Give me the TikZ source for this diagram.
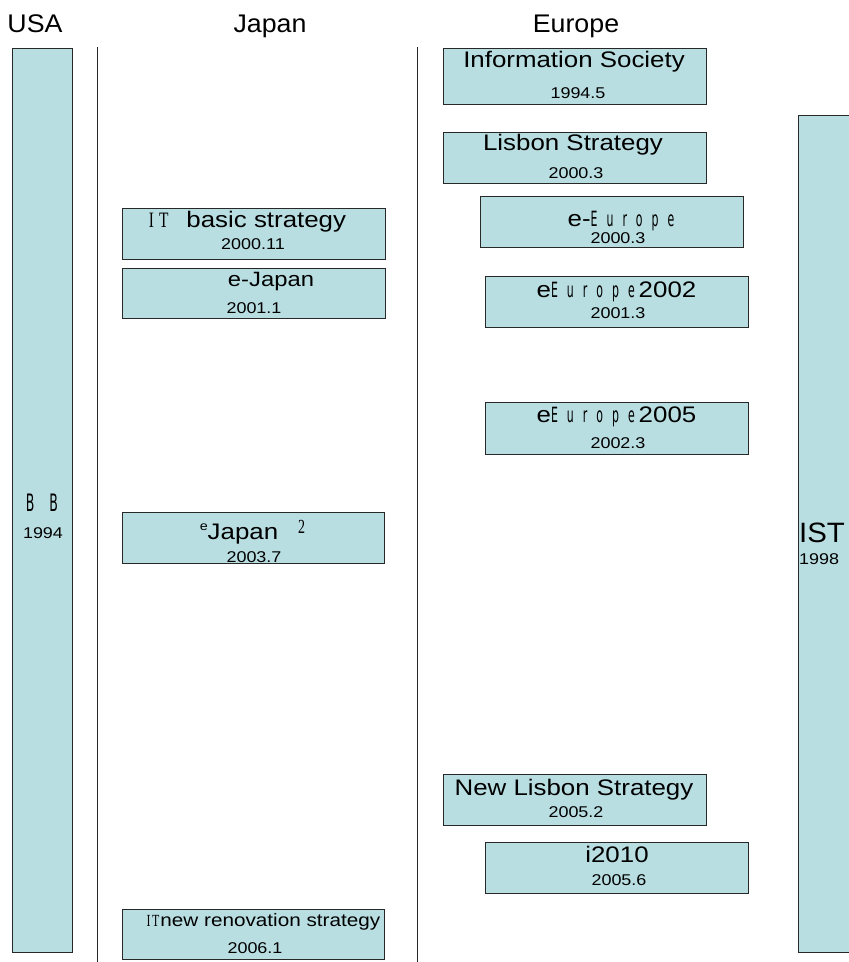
\documentclass[tikz,border=0pt]{standalone}
\usepackage{fontspec}
\setmainfont{Liberation Sans}
% slightly widened sans for box captions and headings; narrow faces for the odd glyph runs
\newfontfamily\bxf{Liberation Sans}[FakeStretch=1.15]
\newfontfamily\hdf{Liberation Sans}[FakeStretch=1.05]
\newfontfamily\nrw{DejaVu Sans}[FakeStretch=0.52]
\newfontfamily\nrws{Liberation Serif}[FakeStretch=0.7]
\newcommand\ttl{\bxf\fontsize{22.5}{24}\selectfont}
\newcommand\dte{\bxf\fontsize{15.6}{17}\selectfont}
\newcommand\lsp{\kern 9pt}
\definecolor{panelfill}{RGB}{185,222,226}
\definecolor{edge}{RGB}{40,40,40}
\tikzset{
  panel/.style={draw=edge, line width=0.9pt, fill=panelfill, inner sep=0pt, anchor=north west},
  lbl/.style={inner sep=0pt, anchor=base},
  lblw/.style={inner sep=0pt, anchor=base west},
  head/.style={inner sep=0pt, anchor=base, font=\hdf\fontsize{25.5}{28}\selectfont},
  divider/.style={draw=edge, line width=0.9pt}
}
\begin{document}
\begin{tikzpicture}[x=1pt,y=-1pt]
\useasboundingbox (0,0) rectangle (849,962);
\clip (0,0) rectangle (849,962);

% column headings
\node[head] (hUSA) at (35,32) {USA};
\node[head] (hJapan) at (270,32) {Japan};
\node[head] (hEurope) at (576,32) {Europe};

% column dividers
\coordinate (d1top) at (97,47);
\coordinate (d1bot) at (97,962);
\coordinate (d2top) at (417,47);
\coordinate (d2bot) at (417,962);
\draw[divider] (d1top) -- (d1bot);
\draw[divider] (d2top) -- (d2bot);

% USA
\node[panel, minimum width=60pt, minimum height=904pt] (usa) at (12,48) {};
\node[lbl] (usaT) at (42,511) {\nrw\fontsize{24}{26}\selectfont B\kern15pt B};
\node[lbl] (usaD) at (43,538) {\dte 1994};

% Japan
\node[panel, minimum width=263pt, minimum height=51pt] (itbasic) at (122,208) {};
\node[lbl] (itbasicT) at (247.5,227) {{\nrws\fontsize{22}{24}\selectfont I\kern5pt T}\kern18pt{\ttl basic strategy}};
\node[lbl] (itbasicD) at (253,249) {\dte 2000.11};

\node[panel, minimum width=263pt, minimum height=50pt] (ejapan) at (122,268) {};
\node[lbl] (ejapanT) at (271,286) {\bxf\fontsize{20.7}{22}\selectfont e-Japan};
\node[lbl] (ejapanD) at (254,313) {\dte 2001.1};

\node[panel, minimum width=262pt, minimum height=51pt] (ejapan2) at (122,512) {};
\node[lbl] (ejapan2T) at (252.5,539) {\raisebox{9pt}{\bxf\fontsize{12.5}{14}\selectfont e}{\ttl Japan}\kern20pt\raisebox{6pt}{\nrws\fontsize{20}{22}\selectfont 2}};
\node[lbl] (ejapan2D) at (254,562) {\dte 2003.7};

\node[panel, minimum width=262pt, minimum height=50pt] (itnew) at (122,909) {};
\node[lbl] (itnewT) at (263.5,926) {{\nrws\fontsize{17}{19}\selectfont I\kern1.5pt T}\kern1pt{\bxf\fontsize{18}{20}\selectfont new renovation strategy}};
\node[lbl] (itnewD) at (255,953) {\dte 2006.1};

% Europe
\node[panel, minimum width=263pt, minimum height=56pt] (info) at (443,48) {};
\node[lbl] (infoT) at (574,67) {\ttl Information Society};
\node[lbl] (infoD) at (578,98) {\dte 1994.5};

\node[panel, minimum width=263pt, minimum height=51pt] (lisbon) at (443,132) {};
\node[lbl] (lisbonT) at (573,150) {\ttl Lisbon Strategy};
\node[lbl] (lisbonD) at (576,178) {\dte 2000.3};

\node[panel, minimum width=263pt, minimum height=51pt] (eeur) at (480,196) {};
\node[lbl] (eeurT) at (621,226) {{\ttl e-}{\nrw\fontsize{21}{23}\selectfont E\lsp u\lsp r\lsp o\lsp p\lsp e}};
\node[lbl] (eeurD) at (618,243) {\dte 2000.3};

\node[panel, minimum width=263pt, minimum height=51pt] (eeurA) at (485,276) {};
\node[lbl] (eeurAT) at (616.5,297) {{\ttl e}{\nrw\fontsize{21}{23}\selectfont E\lsp u\lsp r\lsp o\lsp p\lsp e}\kern4pt{\ttl 2002}};
\node[lbl] (eeurAD) at (618,318) {\dte 2001.3};

\node[panel, minimum width=263pt, minimum height=52pt] (eeurB) at (485,402) {};
\node[lbl] (eeurBT) at (616.5,422) {{\ttl e}{\nrw\fontsize{21}{23}\selectfont E\lsp u\lsp r\lsp o\lsp p\lsp e}\kern4pt{\ttl 2005}};
\node[lbl] (eeurBD) at (618,448) {\dte 2002.3};

\node[panel, minimum width=263pt, minimum height=51pt] (newlis) at (443,774) {};
\node[lbl] (newlisT) at (574,795) {\ttl New Lisbon Strategy};
\node[lbl] (newlisD) at (576,817) {\dte 2005.2};

\node[panel, minimum width=263pt, minimum height=51pt] (itwenty) at (485,842) {};
\node[lbl] (itwentyT) at (617,862) {\ttl i2010};
\node[lbl] (itwentyD) at (619,885) {\dte 2005.6};

% IST programme, running off the right edge
\node[panel, minimum width=72pt, minimum height=837pt] (ist) at (798,115) {};
\node[lblw] (istT) at (799,542) {\hdf\fontsize{28}{30}\selectfont IST};
\node[lblw] (istD) at (799,564) {\dte 1998};
\end{tikzpicture}
\end{document}
